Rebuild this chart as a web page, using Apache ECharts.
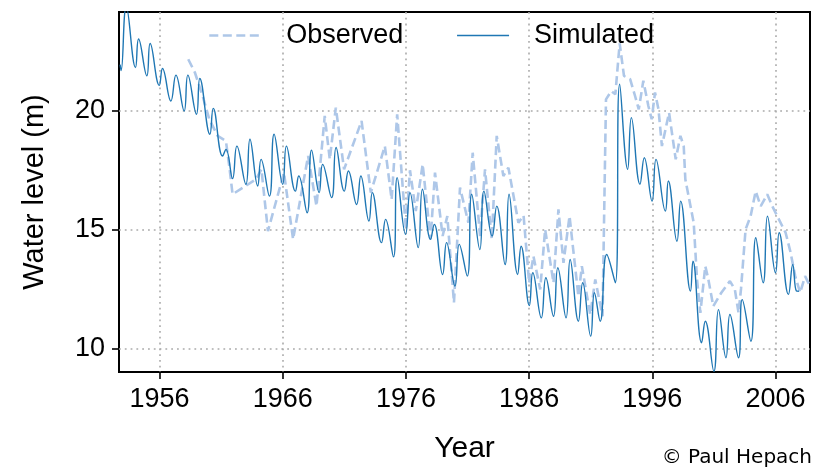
<!DOCTYPE html>
<html>
<head>
<meta charset="utf-8">
<script src="https://cdn.jsdelivr.net/npm/echarts@6/dist/echarts.min.js"></script>
<style>html,body{margin:0;padding:0;background:#fff;}#c{width:815px;height:470px;}</style>
</head>
<body>
<div id="c"></div>
<script>
var xTicks = [1956, 1966, 1976, 1986, 1996, 2006];
var yTicks = [10, 15, 20];

var simYears = [1952.8,1952.88,1953.3,1954.05,1954.3,1954.97,1955.24,1955.98,1956.24,1956.92,1957.33,1958.0,1958.3,1959.0,1959.27,1960.09,1960.36,1961.12,1961.39,1961.93,1962.28,1963.01,1963.34,1963.97,1964.24,1964.92,1965.3,1966.0,1966.3,1967.03,1967.3,1967.98,1968.34,1968.96,1969.24,1969.97,1970.33,1971.0,1971.33,1972.0,1972.34,1973.0,1973.27,1974.02,1974.35,1974.99,1975.29,1975.97,1976.33,1977.0,1977.34,1978.0,1978.3,1978.98,1979.3,1979.98,1980.33,1980.98,1981.34,1982.0,1982.33,1983.0,1983.37,1984.05,1984.37,1985.07,1985.35,1986.02,1986.3,1986.99,1987.36,1987.98,1988.33,1989.0,1989.33,1990.0,1990.35,1991.0,1991.3,1991.77,1992.3,1993.0,1993.35,1994.0,1994.3,1995.0,1995.35,1995.98,1996.3,1997.06,1997.3,1998.0,1998.3,1999.1,1999.3,2000.0,2000.3,2001.0,2001.37,2001.98,2002.3,2003.0,2003.3,2004.0,2004.4,2005.0,2005.35,2006.0,2006.3,2007.05,2007.4,2007.7,2007.9];
var simValues = [21.95,21.7,24.4,21.83,23.03,21.48,22.84,21.08,21.79,20.42,21.51,20.0,21.51,19.86,21.37,19.02,20.11,18.1,18.38,17.15,18.52,16.91,18.81,16.84,17.96,16.41,19.02,16.91,18.52,16.62,17.26,15.71,18.35,16.56,17.75,16.35,18.46,16.62,17.47,16.06,17.26,15.36,16.56,14.45,15.43,13.85,17.19,14.8,16.56,14.24,16.7,14.59,15.22,13.11,14.45,12.62,14.38,13.04,16.49,14.16,16.62,14.73,15.99,13.53,16.49,13.11,14.3,11.8,13.18,11.28,12.97,11.35,13.39,11.28,13.74,11.14,12.76,10.51,12.34,11.14,13.95,12.76,21.13,17.54,19.72,16.91,18.03,16.2,17.96,15.78,17.05,14.51,16.2,12.41,13.67,10.23,11.14,9.03,11.63,9.6,11.42,9.6,12.05,10.3,14.66,12.76,15.57,13.18,14.87,12.27,13.53,12.41,12.4];

var obsYears = [1958.33,1958.87,1959.5,1960.04,1960.72,1961.39,1961.66,1961.93,1963.83,1964.27,1964.8,1966.1,1966.84,1968.06,1968.74,1969.41,1969.82,1970.31,1970.98,1972.4,1973.15,1974.29,1974.84,1975.29,1976.0,1976.33,1976.8,1977.36,1978.0,1978.36,1978.98,1979.36,1979.9,1980.39,1981.07,1981.42,1982.02,1982.42,1982.97,1983.37,1983.91,1984.32,1985.13,1985.55,1986.0,1986.35,1986.9,1987.3,1987.98,1988.38,1988.79,1989.28,1990.0,1990.28,1990.96,1991.37,1991.96,1992.24,1992.67,1993.0,1993.35,1993.7,1994.2,1994.6,1994.9,1995.27,1995.68,1995.95,1996.22,1996.5,1996.78,1997.36,1997.9,1998.28,1998.55,1998.68,1999.36,1999.63,1999.9,2000.3,2000.55,2000.95,2001.6,2002.3,2002.7,2003.0,2003.2,2003.57,2003.98,2004.39,2004.8,2005.33,2005.74,2006.14,2006.82,2007.2,2007.6,2008.0,2008.4,2008.8];
var obsValues = [22.18,21.62,20.63,19.65,18.95,18.73,17.68,16.49,17.12,17.54,14.94,17.4,14.59,18.1,15.99,19.79,17.96,20.14,17.54,19.58,16.56,18.52,16.27,19.86,15.01,17.5,15.78,17.75,14.59,17.4,14.73,15.57,11.92,16.77,15.29,18.24,14.73,17.54,14.59,18.95,17.26,17.61,15.29,15.6,12.76,13.88,12.48,15.01,12.76,15.85,13.6,15.57,12.19,13.46,11.42,12.9,11.35,20.49,20.84,20.7,22.85,21.48,21.34,20.63,20.07,21.27,20.21,19.65,20.78,20.07,18.52,19.93,17.96,18.95,18.52,17.12,15.29,12.9,11.49,13.46,12.9,11.77,12.34,12.83,12.48,11.49,12.5,15.01,15.57,16.62,15.99,16.49,15.99,15.57,14.87,14.09,13.04,12.34,13.04,12.62];

function pairs(xs, ys) { return xs.map(function (x, i) { return [x, ys[i]]; }); }

var chart = echarts.init(document.getElementById('c'), null, { renderer: 'canvas' });
var FONT = 'Liberation Sans';
chart.setOption({
  animation: false,
  backgroundColor: '#ffffff',
  grid: {
    left: 119, top: 12, width: 691, height: 360,
    show: true, borderColor: '#000', borderWidth: 2, backgroundColor: 'transparent'
  },
  legend: {
    left: 203, top: 17,
    itemWidth: 52, itemHeight: 16, itemGap: 53,
    itemStyle: { opacity: 0 },
    textStyle: { fontFamily: FONT, fontSize: 27, color: '#000', padding: [0, 0, 0, 20] },
    data: [
      { name: 'Observed', lineStyle: { color: '#aec7e8', width: 2.6, type: [9, 4.5] } },
      { name: 'Simulated', lineStyle: { color: '#1f77b4', width: 1.4 } }
    ]
  },
  xAxis: {
    type: 'value', min: 1952.71, max: 2008.8,
    name: 'Year', nameLocation: 'middle', nameGap: 62,
    nameTextStyle: { fontFamily: FONT, fontSize: 30, color: '#000' },
    axisLine: { show: false },
    axisTick: { show: true, inside: false, length: 7, lineStyle: { color: '#000', width: 1.6 }, customValues: xTicks },
    axisLabel: { fontFamily: FONT, fontSize: 27, color: '#000', margin: 14, customValues: xTicks, formatter: function (v) { return String(v); } },
    splitLine: { show: true, lineStyle: { color: '#aaaaaa', width: 1.6, type: [1.8, 4] } }
  },
  yAxis: {
    type: 'value', min: 9, max: 24.17,
    name: 'Water level (m)', nameLocation: 'middle', nameGap: 70, nameRotate: 90,
    nameTextStyle: { fontFamily: FONT, fontSize: 29, color: '#000' },
    axisLine: { show: false },
    axisTick: { show: true, inside: false, length: 7, lineStyle: { color: '#000', width: 1.6 }, customValues: yTicks },
    axisLabel: { fontFamily: FONT, fontSize: 27, color: '#000', margin: 14, customValues: yTicks },
    splitLine: { show: true, lineStyle: { color: '#aaaaaa', width: 1.6, type: [1.8, 4] } }
  },
  series: [
    {
      name: 'Observed', type: 'line', data: pairs(obsYears, obsValues),
      symbol: 'none', showSymbol: false, clip: true,
      lineStyle: { color: '#aec7e8', width: 2.6, type: [9, 4.5] },
      itemStyle: { color: '#aec7e8' }
    },
    {
      name: 'Simulated', type: 'line', data: pairs(simYears, simValues),
      symbol: 'none', showSymbol: false, clip: true, smooth: 0.45,
      lineStyle: { color: '#1f77b4', width: 1.4 },
      itemStyle: { color: '#1f77b4' }
    }
  ],
  graphic: [
    { type: 'text', right: 3, bottom: 2, style: { text: '© Paul Hepach', fontFamily: 'DejaVu Sans', fontSize: 20, fill: '#000' } }
  ]
});
</script>
</body>
</html>
